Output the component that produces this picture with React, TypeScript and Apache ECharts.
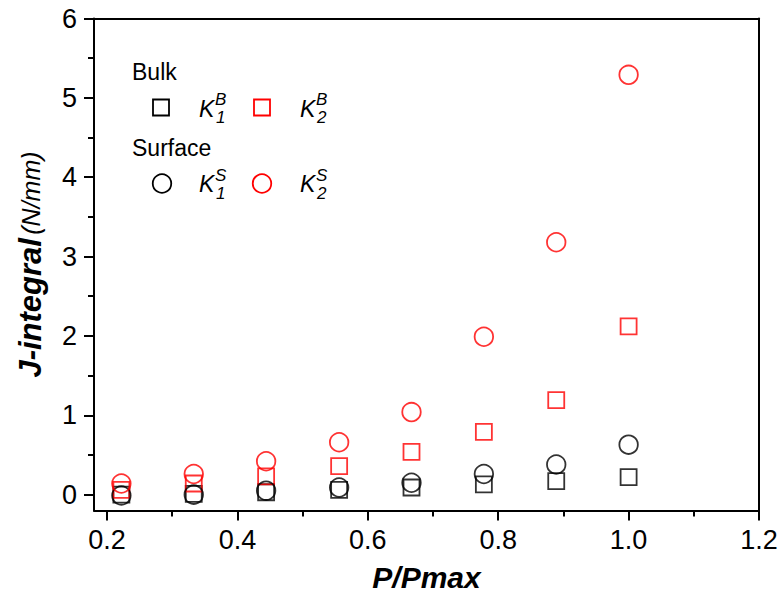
import React, { useEffect, useRef } from "react";
import * as echarts from "echarts";

const xValues = [0.222, 0.333, 0.444, 0.556, 0.667, 0.778, 0.889, 1.0];
const k1Bulk = [0.0, 0.01, 0.03, 0.06, 0.09, 0.13, 0.17, 0.22];
const k2Bulk = [0.06, 0.14, 0.23, 0.36, 0.54, 0.79, 1.19, 2.12];
const k1Surface = [-0.01, 0.0, 0.05, 0.09, 0.15, 0.26, 0.38, 0.63];
const k2Surface = [0.14, 0.26, 0.42, 0.66, 1.04, 1.99, 3.18, 5.29];

const xMajorTicks = [0.2, 0.4, 0.6, 0.8, 1.0, 1.2];
const xMinorTicks = [0.3, 0.5, 0.7, 0.9, 1.1];
const yMajorTicks = [0, 1, 2, 3, 4, 5, 6];
const yMinorTicks = [0.5, 1.5, 2.5, 3.5, 4.5, 5.5];

const FONT = "'Liberation Sans', Arial, sans-serif";
const RED = "#ff0000";

function pairs(ys: number[]) {
  return xValues.map((x, i) => [x, ys[i]]);
}

export default function App() {
  const ref = useRef<HTMLDivElement>(null);
  useEffect(() => {
    document.body.style.margin = "0";
    const chart = echarts.init(ref.current!, null, { renderer: "svg" });
    const axisLine = { show: true, onZero: false, lineStyle: { color: "#000", width: 2 } };
    const hiddenLine = { show: false, onZero: false };
    const legendText = (text: string, x: number, y: number, size: number, italic = false) => ({
      type: "text",
      x,
      y,
      style: {
        text,
        fill: "#000",
        font: `${italic ? "italic " : ""}${size}px ${FONT}`,
        textAlign: "left",
        textVerticalAlign: "middle",
      },
    });
    const kLabel = (x: number, y: number, sup: string, sub: string) => [
      legendText("K", x, y, 23, true),
      legendText(sup, x + 16, y - 9, 17, true),
      legendText(sub, x + 17, y + 9, 17, true),
    ];
    const frameAxis = (pos: string) => ({
      type: "value",
      min: pos === "top" ? 0.18 : -0.2,
      max: pos === "top" ? 1.2 : 6,
      position: pos,
      axisLine,
      splitLine: { show: false },
      axisTick: { show: false },
      axisLabel: { show: false },
    });
    chart.setOption({
      animation: false,
      grid: {
        left: 94,
        right: 24,
        top: 18.5,
        bottom: 90.5,
      },
      xAxis: [
        {
          type: "value",
          min: 0.18,
          max: 1.2,
          position: "bottom",
          axisLine,
          splitLine: { show: false },
          axisTick: {
            show: true,
            inside: false,
            length: 10,
            customValues: xMajorTicks,
            lineStyle: { color: "#000", width: 2 },
          },
          axisLabel: {
            customValues: xMajorTicks,
            formatter: (v: number) => v.toFixed(1),
            color: "#000",
            fontSize: 27,
            fontFamily: FONT,
            margin: 16,
          },
          name: "P/Pmax",
          nameLocation: "middle",
          nameGap: 52,
          nameTextStyle: {
            fontSize: 30,
            fontWeight: "bold",
            fontStyle: "italic",
            fontFamily: FONT,
            color: "#000",
          },
        },
        {
          type: "value",
          min: 0.18,
          max: 1.2,
          position: "bottom",
          axisLine: hiddenLine,
          splitLine: { show: false },
          axisTick: {
            show: true,
            length: 6,
            customValues: xMinorTicks,
            lineStyle: { color: "#000", width: 2 },
          },
          axisLabel: { show: false },
        },
        frameAxis("top"),
      ],
      yAxis: [
        {
          type: "value",
          min: -0.2,
          max: 6,
          position: "left",
          axisLine,
          splitLine: { show: false },
          axisTick: {
            show: true,
            length: 10,
            customValues: yMajorTicks,
            lineStyle: { color: "#000", width: 2 },
          },
          axisLabel: {
            customValues: yMajorTicks,
            formatter: (v: number) => String(v),
            color: "#000",
            fontSize: 27,
            fontFamily: FONT,
            margin: 17,
          },
          name: "{b|J-integral} {n|(N/mm)}",
          nameLocation: "middle",
          nameRotate: 90,
          nameGap: 48,
          nameTextStyle: {
            color: "#000",
            rich: {
              b: {
                fontSize: 31,
                fontWeight: "bold",
                fontStyle: "italic",
                fontFamily: FONT,
                color: "#000",
              },
              n: {
                fontSize: 25,
                fontStyle: "italic",
                fontFamily: FONT,
                color: "#000",
              },
            },
          },
        },
        {
          type: "value",
          min: -0.2,
          max: 6,
          position: "left",
          axisLine: hiddenLine,
          splitLine: { show: false },
          axisTick: {
            show: true,
            length: 6,
            customValues: yMinorTicks,
            lineStyle: { color: "#000", width: 2 },
          },
          axisLabel: { show: false },
        },
        frameAxis("right"),
      ],
      series: [
        {
          name: "K1B",
          type: "scatter",
          data: pairs(k1Bulk),
          symbol: "rect",
          symbolSize: 16,
          itemStyle: { color: "rgba(0,0,0,0)", borderColor: "#000", borderWidth: 1.8 },
        },
        {
          name: "K2B",
          type: "scatter",
          data: pairs(k2Bulk),
          symbol: "rect",
          symbolSize: 16,
          itemStyle: { color: "rgba(0,0,0,0)", borderColor: RED, borderWidth: 1.8 },
        },
        {
          name: "K1S",
          type: "scatter",
          data: pairs(k1Surface),
          symbol: "circle",
          symbolSize: 18.5,
          itemStyle: { color: "rgba(0,0,0,0)", borderColor: "#000", borderWidth: 1.8 },
        },
        {
          name: "K2S",
          type: "scatter",
          data: pairs(k2Surface),
          symbol: "circle",
          symbolSize: 18.5,
          itemStyle: { color: "rgba(0,0,0,0)", borderColor: RED, borderWidth: 1.8 },
        },
      ],
      graphic: [
        legendText("Bulk", 132, 71.5, 23),
        {
          type: "rect",
          shape: { x: 153, y: 99.5, width: 16, height: 16 },
          style: { fill: "none", stroke: "#000", lineWidth: 1.8 },
        },
        ...kLabel(199, 108.5, "B", "1"),
        {
          type: "rect",
          shape: { x: 254, y: 99.5, width: 16, height: 16 },
          style: { fill: "none", stroke: RED, lineWidth: 1.8 },
        },
        ...kLabel(300, 108.5, "B", "2"),
        legendText("Surface", 132, 147.5, 23),
        {
          type: "circle",
          shape: { cx: 162, cy: 183.5, r: 9.25 },
          style: { fill: "none", stroke: "#000", lineWidth: 1.8 },
        },
        ...kLabel(199, 184, "S", "1"),
        {
          type: "circle",
          shape: { cx: 262, cy: 183.5, r: 9.25 },
          style: { fill: "none", stroke: RED, lineWidth: 1.8 },
        },
        ...kLabel(300, 184, "S", "2"),
      ],
    });
    return () => chart.dispose();
  }, []);
  return <div ref={ref} style={{ width: 783, height: 601 }} />;
}
